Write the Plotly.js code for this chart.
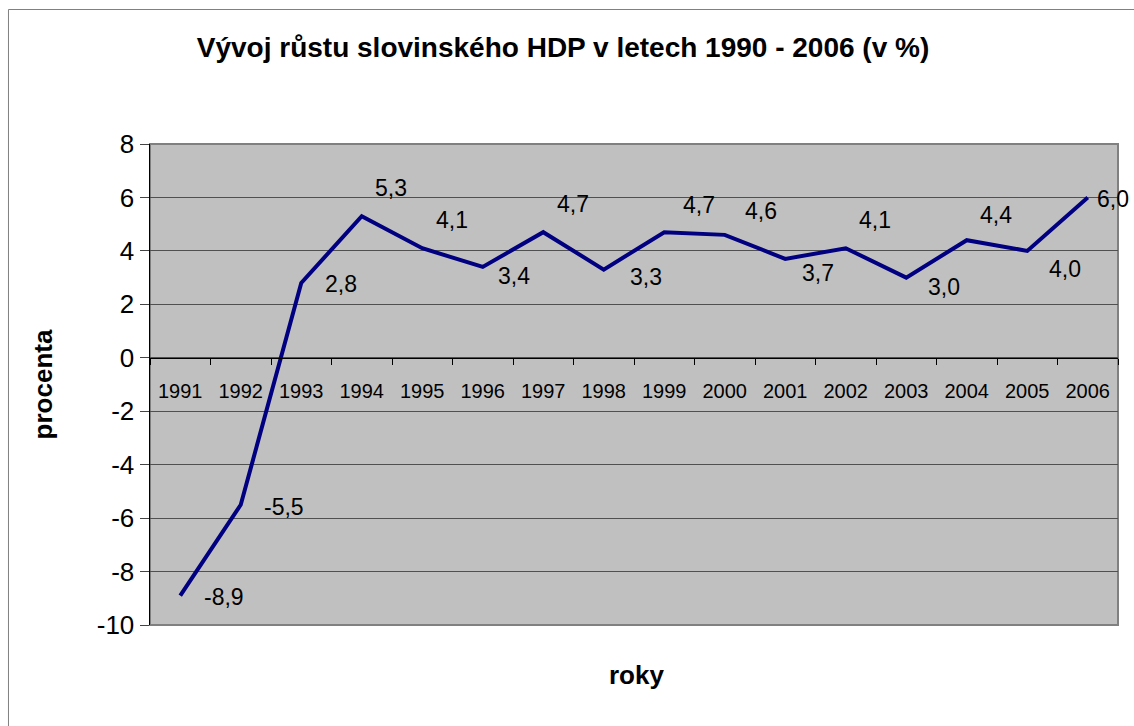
<!DOCTYPE html>
<html>
<head>
<meta charset="utf-8">
<script src="https://cdn.plot.ly/plotly-3.0.1.min.js"></script>
<style>html,body{margin:0;padding:0;background:#fff;}#chart{width:1134px;height:726px;}</style>
</head>
<body>
<div id="chart"></div>
<script>
// Data
const years = ['1991','1992','1993','1994','1995','1996','1997','1998','1999','2000','2001','2002','2003','2004','2005','2006'];
const gdpGrowth = [-8.9,-5.5,2.8,5.3,4.1,3.4,4.7,3.3,4.7,4.6,3.7,4.1,3.0,4.4,4.0,6.0];
const yTicks = [-10,-8,-6,-4,-2,0,2,4,6,8];

// Label offsets (style only, px)
const labelShiftX = [44,43,40,29,30,31,30,42,35,36,33,29,38,29,38,25];
const labelShiftY = [-1,-2,-1,28,28,-9,28,-7,27,24,-14,28,-9,25,-18,-2];

const FONT = 'Arial, "Liberation Sans", sans-serif';
const fmt = v => v.toFixed(1).replace('.', ',');

const trace = {
  type: 'scatter', mode: 'lines', x: years, y: gdpGrowth,
  line: {color: '#000080', width: 4}, hoverinfo: 'x+y', showlegend: false
};

// category axis: annotation x given as category index
const labels = years.map((yr, i) => ({
  x: i, y: gdpGrowth[i], xref: 'x', yref: 'y', text: fmt(gdpGrowth[i]),
  showarrow: false, xanchor: 'center', yanchor: 'middle',
  xshift: labelShiftX[i], yshift: labelShiftY[i],
  font: {family: FONT, size: 23, color: '#000'}
}));

labels.push({
  xref: 'paper', yref: 'paper', x: 0.503, y: -0.104, text: '<b>roky</b>',
  showarrow: false, xanchor: 'center', yanchor: 'middle',
  font: {family: FONT, size: 26, color: '#000'}
});

const layout = {
  width: 1134, height: 726,
  margin: {l: 150, r: 16, t: 144, b: 101, pad: 0},
  paper_bgcolor: '#ffffff', plot_bgcolor: '#c0c0c0',
  title: {text: '<b>Vývoj růstu slovinského HDP v letech 1990 - 2006 (v %)</b>',
          x: 0.4965, xref: 'container', xanchor: 'center', y: 0.935, yref: 'container', yanchor: 'middle',
          font: {family: FONT, size: 28, color: '#000'}},
  xaxis: {
    type: 'category', categoryorder: 'array', categoryarray: years,
    range: [-0.5, years.length - 0.5], autorange: false,
    anchor: 'free', position: 10/18,
    showline: true, linecolor: '#000', linewidth: 1,
    ticks: 'outside', ticklen: 6, tickcolor: '#000', tickwidth: 1, tickson: 'boundaries',
    ticklabelstandoff: 15, tickangle: 0,
    showgrid: false, zeroline: false,
    tickfont: {family: FONT, size: 20, color: '#000'}
  },
  yaxis: {
    range: [-10, 8], autorange: false, tickvals: yTicks, ticktext: yTicks.map(String),
    showline: true, linecolor: '#000', linewidth: 1.5,
    ticks: 'outside', ticklen: 9, tickcolor: '#444', tickwidth: 1,
    showgrid: true, gridcolor: '#505050', gridwidth: 1, zeroline: false,
    tickfont: {family: FONT, size: 26, color: '#000'},
    title: {text: '<b>procenta</b>', standoff: 36, font: {family: FONT, size: 26, color: '#000'}}
  },
  annotations: labels,
  shapes: [
    {type: 'rect', xref: 'paper', yref: 'paper', x0: 0, x1: 1, y0: 0, y1: 1,
     line: {color: '#808080', width: 2}, layer: 'below'},
    {type: 'line', xref: 'paper', yref: 'paper', x0: -0.1462, x1: 1.02, y0: 1.2796, y1: 1.2796,
     line: {color: '#808080', width: 1}},
    {type: 'line', xref: 'paper', yref: 'paper', x0: -0.1462, x1: -0.1462, y0: 1.2796, y1: -0.22,
     line: {color: '#808080', width: 1}}
  ]
};

Plotly.newPlot('chart', [trace], layout, {displayModeBar: false, staticPlot: true});
</script>
</body>
</html>
